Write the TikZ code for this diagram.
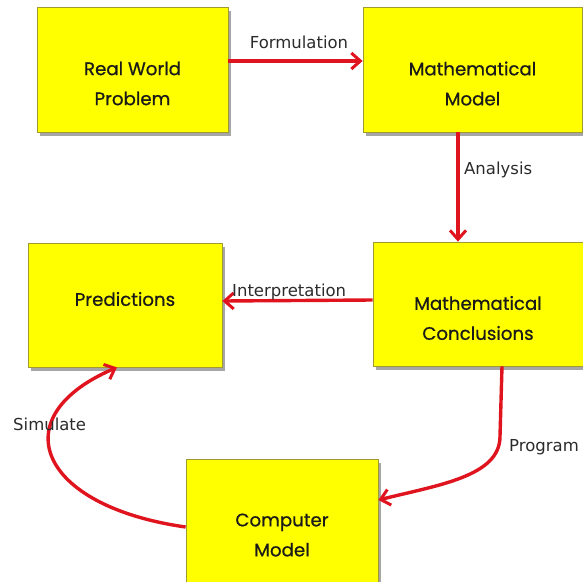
\documentclass[tikz,border=0pt]{standalone}
\usepackage{fontspec}
\usepackage{tikz}
\setmainfont{Poppins}
\newfontfamily\stagefont{Poppins}[FakeBold=0.7]
\newfontfamily\labelfont{DejaVu Sans}
\usetikzlibrary{
  arrows.meta,
  positioning,
  calc,
  shadows
}
\definecolor{mmFill}{HTML}{FFFF00}
\definecolor{mmEdge}{HTML}{A09A30}
\definecolor{mmArrow}{HTML}{E0141E}
\definecolor{mmText}{HTML}{1A1A1A}
\definecolor{mmLabel}{HTML}{2B2B2B}
\tikzset{
  stagebox/.style={
    draw=mmEdge, fill=mmFill, line width=0.8pt, inner sep=0pt,
    drop shadow={shadow xshift=3pt, shadow yshift=-3.5pt, fill=black, opacity=0.35}
  },
  stagetext/.style={
    font=\stagefont\fontsize{18.2}{30}\selectfont, text=mmText, align=center, inner sep=0pt
  },
  flowarrow/.style={
    draw=mmArrow, line width=3.4pt,
    -{Straight Barb[length=9pt, width=16pt, line width=3pt]}
  },
  steplabel/.style={font=\labelfont\fontsize{16.5}{18}\selectfont, text=mmLabel, inner sep=0pt}
}
\begin{document}
\begin{tikzpicture}[x=1pt, y=-1pt]
  \useasboundingbox (0,0) rectangle (583,581);
  % stages
  \node[stagebox, minimum width=191pt, minimum height=125pt,
    label={[stagetext, yshift=-14pt]center:Real World\\Problem}] (rwp) at (132.5,69.5) {};
  \node[stagebox, minimum width=219pt, minimum height=125pt,
    label={[stagetext, yshift=-14pt]center:Mathematical\\Model}] (mm) at (472.5,69.5) {};
  \node[stagebox, minimum width=194pt, minimum height=124pt,
    label={[stagetext, yshift=6pt]center:Predictions}] (pred) at (125,305) {};
  \node[stagebox, minimum width=210pt, minimum height=124pt,
    label={[stagetext, yshift=-14pt]center:Mathematical\\Conclusions}] (mc) at (478,304) {};
  \node[stagebox, minimum width=192pt, minimum height=124pt,
    label={[stagetext, yshift=-14pt]center:Computer\\Model}] (cm) at (282,521) {};
  % connectors
  \draw[flowarrow] ([yshift=8.5pt]rwp.east) -- ([yshift=8.5pt]mm.west);
  \draw[flowarrow] ([xshift=-14.5pt]mm.south) -- ([xshift=-14.5pt]mm.south |- mc.north);
  \draw[flowarrow] ([yshift=4pt]mc.west) -- ([yshift=4pt]pred.east);
  \draw[flowarrow] ([xshift=24pt]mc.south) -- ++(-2,70)
    .. controls +(0,40) and +(60,-15) .. ([yshift=21pt]cm.east);
  \draw[flowarrow] ([yshift=-6pt]cm.west)
    .. controls +(-148,-21) and +(-115,49) .. ([xshift=-8pt]pred.south);
  % step labels
  \node[steplabel, anchor=base] (formulation) at (299,48) {Formulation};
  \node[steplabel, anchor=base west] (analysis) at (464,174) {Analysis};
  \node[steplabel, anchor=base west] (interpretation) at (232,296) {Interpretation};
  \node[steplabel, anchor=base west] (program) at (509,451) {Program};
  \node[steplabel, anchor=base west] (simulate) at (13,430) {Simulate};
\end{tikzpicture}
\end{document}
